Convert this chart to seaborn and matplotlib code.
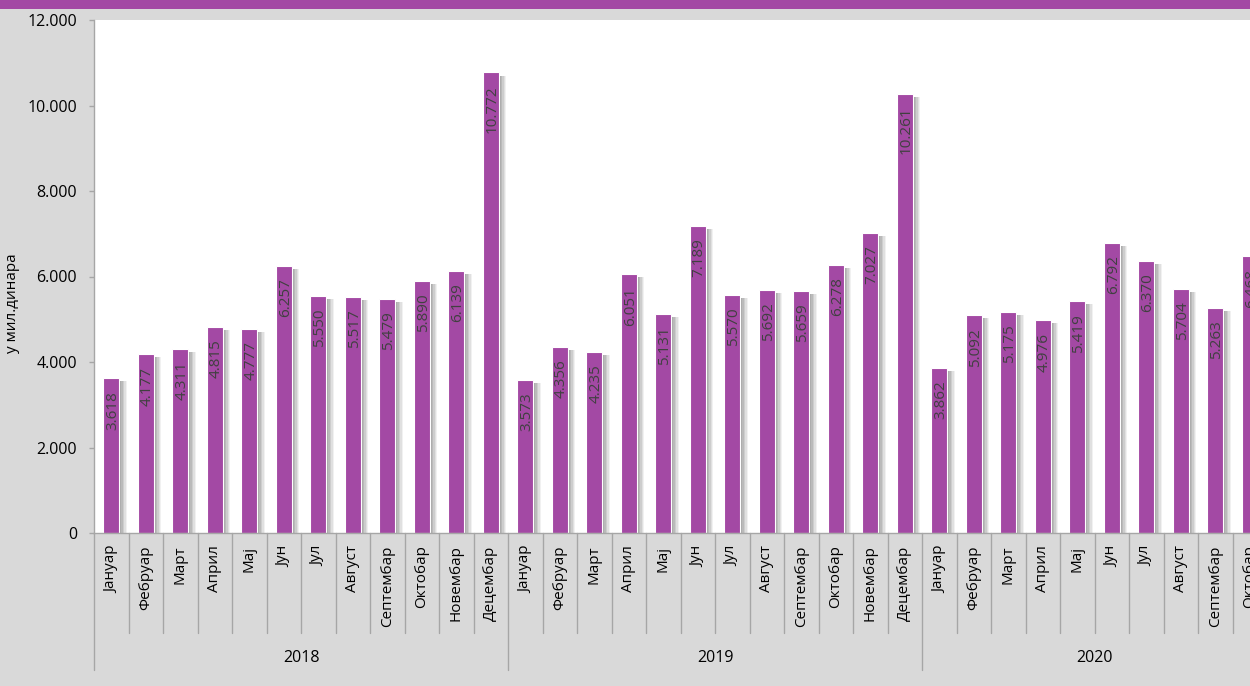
import matplotlib
matplotlib.use("Agg")
import matplotlib.pyplot as plt
import matplotlib.patheffects as pe
from matplotlib.patches import Rectangle
from matplotlib.ticker import FuncFormatter, MultipleLocator
from matplotlib.transforms import blended_transform_factory
import pandas as pd
import seaborn as sns

# Monthly amounts, in millions of dinars
months = ["Јануар", "Фебруар", "Март", "Април", "Мај", "Јун", "Јул",
          "Август", "Септембар", "Октобар", "Новембар", "Децембар"]
years = ["2018", "2019", "2020"]
values_2018 = [3618, 4177, 4311, 4815, 4777, 6257, 5550, 5517, 5479, 5890, 6139, 10772]
values_2019 = [3573, 4356, 4235, 6051, 5131, 7189, 5570, 5692, 5659, 6278, 7027, 10261]
values_2020 = [3862, 5092, 5175, 4976, 5419, 6792, 6370, 5704, 5263, 6468]
y_label = "у мил.динара"

rows = []
for year, vals in zip(years, [values_2018, values_2019, values_2020]):
    for month, v in zip(months, vals):
        rows.append({"year": year, "month": month, "value": v, "key": f"{year}-{month}"})
df = pd.DataFrame(rows)

BAR = "#A349A4"
GRID = "#A6A6A6"
BG = "#D9D9D9"
LABEL = "#404040"


def thousands(v, _pos=None):
    return f"{v:,.0f}".replace(",", ".")


sns.set_style("white")
plt.rcParams["font.family"] = ["Open Sans", "DejaVu Sans"]

W, H = 1250, 686
fig = plt.figure(figsize=(W / 100, H / 100), dpi=100, facecolor=BG)
fig.add_artist(Rectangle((0, 1 - 9 / H), 1, 9 / H, transform=fig.transFigure,
                         color=BAR, zorder=0, lw=0))

# plot area: one category per 34.5 px, running past the right edge
cat_px = 34.5
left, top, bottom = 94, 20, 533
right = left + cat_px * len(df)
ax = fig.add_axes([left / W, 1 - bottom / H, (right - left) / W, (bottom - top) / H])
ax.set_facecolor("white")

sns.barplot(data=df, x="key", y="value", order=list(df["key"]), color=BAR,
            saturation=1, width=0.47, edgecolor="white", linewidth=0.8, ax=ax)

# soft drop shadow to the lower right of each bar
shadow = [
    pe.SimplePatchShadow(offset=(dx, -2.2), shadow_rgbFace="#7a7a7a", alpha=a)
    for dx, a in [(5.5, 0.10), (4.5, 0.14), (3.5, 0.18), (2.5, 0.22), (1.5, 0.25)]
] + [pe.Normal()]
for p in ax.patches:
    p.set_path_effects(shadow)

for i, v in enumerate(df["value"]):
    ax.annotate(thousands(v), xy=(i, v), xytext=(1, -9), textcoords="offset points",
                rotation=90, ha="center", va="top", fontsize=11, color=LABEL)

ax.set_xlim(-0.5, len(df) - 0.5)
ax.set_ylim(0, 12000)
ax.yaxis.set_major_locator(MultipleLocator(2000))
ax.yaxis.set_major_formatter(FuncFormatter(thousands))
ax.set_xlabel("")
ax.set_ylabel("")
ax.set_xticks(range(len(df)))
ax.set_xticklabels(df["month"], rotation=90)
ax.tick_params(axis="x", length=0, pad=9, labelsize=11, labelcolor="black")
ax.tick_params(axis="y", length=3.6, width=1, color=GRID, pad=8.5,
               labelsize=11.5, labelcolor="black", left=True)
for side in ("top", "right"):
    ax.spines[side].set_visible(False)
for side in ("left", "bottom"):
    ax.spines[side].set_color(GRID)
    ax.spines[side].set_linewidth(1)

# two-level category axis: month dividers and year dividers with year labels
trans = blended_transform_factory(ax.transData, ax.transAxes)
month_depth = -100 / (bottom - top)
year_depth = -137 / (bottom - top)
for i in range(len(df) + 1):
    depth = year_depth if i % 12 == 0 else month_depth
    ax.plot([i - 0.5, i - 0.5], [0, depth], transform=trans, color=GRID,
            lw=1, clip_on=False)

start = 0
for year, vals in zip(years, [values_2018, values_2019, values_2020]):
    end = start + len(vals)
    ax.text((start + end - 1) / 2, -125 / (bottom - top), year, transform=trans,
            ha="center", va="center", fontsize=11.5, color="black")
    start = end

fig.text(13 / W, 1 - 303 / H, y_label, rotation=90, ha="center", va="center",
         fontsize=11, color="black")

fig.savefig("out.png", dpi=100, facecolor=fig.get_facecolor())
